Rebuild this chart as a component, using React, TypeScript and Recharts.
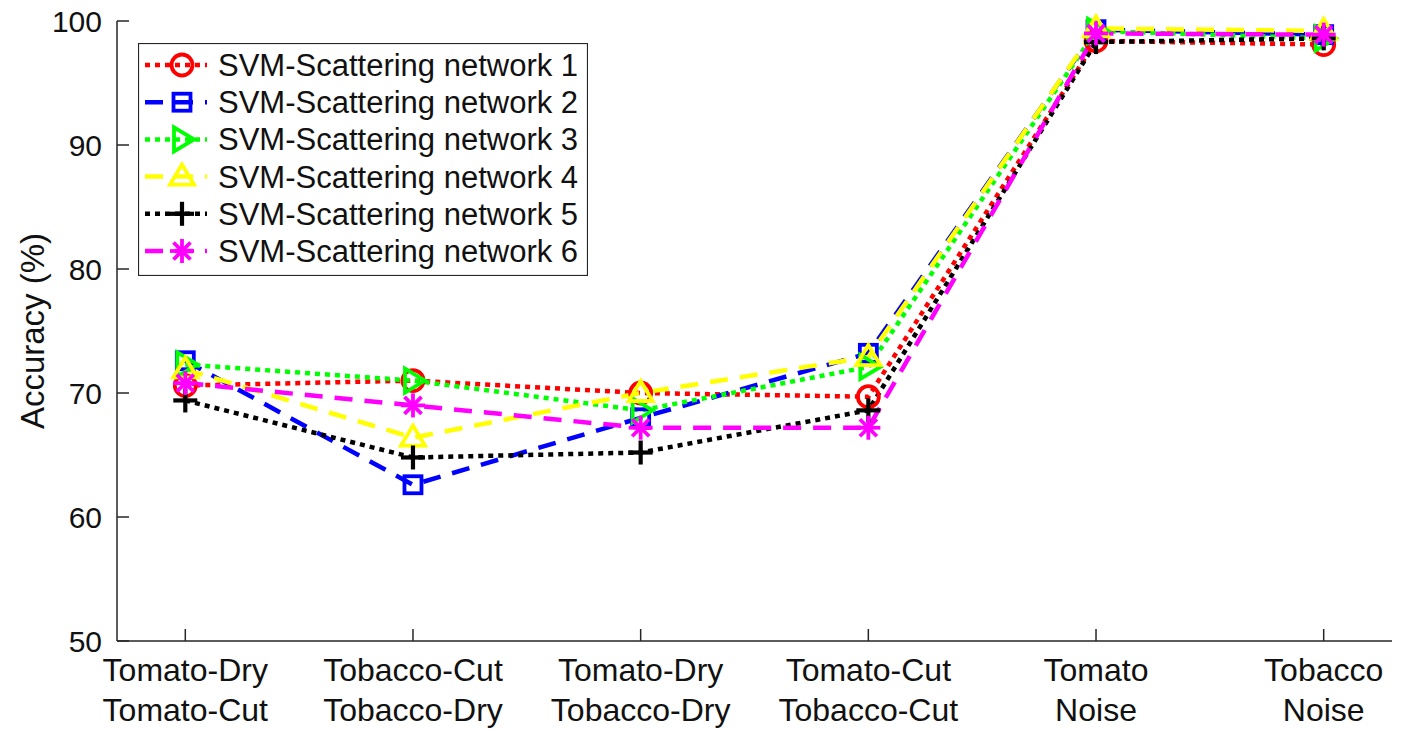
import React from "react";
import { LineChart, Line, XAxis, YAxis, Legend } from "recharts";

// category labels (two lines each) at x = 1..6
const categoryTop = ["Tomato-Dry", "Tobacco-Cut", "Tomato-Dry", "Tomato-Cut", "Tomato", "Tobacco"];
const categoryBottom = ["Tomato-Cut", "Tobacco-Dry", "Tobacco-Dry", "Tobacco-Cut", "Noise", "Noise"];
const xPositions = [1, 2, 3, 4, 5, 6];
const yTicks = [50, 60, 70, 80, 90, 100];

const net1 = [70.6, 71.0, 70.0, 69.7, 98.4, 98.1];
const net2 = [72.6, 62.6, 68.0, 73.2, 99.3, 98.9];
const net3 = [72.3, 71.0, 68.6, 72.1, 99.2, 98.6];
const net4 = [71.9, 66.4, 70.0, 72.9, 99.4, 99.2];
const net5 = [69.4, 64.8, 65.2, 68.6, 98.3, 98.6];
const net6 = [70.8, 69.0, 67.2, 67.2, 99.0, 98.9];

const seriesNames = [
  "SVM-Scattering network 1",
  "SVM-Scattering network 2",
  "SVM-Scattering network 3",
  "SVM-Scattering network 4",
  "SVM-Scattering network 5",
  "SVM-Scattering network 6",
];

const FONT = "'Liberation Sans', Arial, Helvetica, sans-serif";
const AXIS = "#262626";

type Marker = "circle" | "square" | "triRight" | "triUp" | "plus" | "star";

const styles: { key: string; color: string; dash: string; marker: Marker }[] = [
  { key: "n1", color: "#FF0000", dash: "5 5", marker: "circle" },
  { key: "n2", color: "#0000FF", dash: "18 12", marker: "square" },
  { key: "n3", color: "#00FF00", dash: "5 5", marker: "triRight" },
  { key: "n4", color: "#FFFF00", dash: "18 12", marker: "triUp" },
  { key: "n5", color: "#000000", dash: "5 5", marker: "plus" },
  { key: "n6", color: "#FF00FF", dash: "18 12", marker: "star" },
];

const data = xPositions.map((x, i) => ({
  x,
  n1: net1[i],
  n2: net2[i],
  n3: net3[i],
  n4: net4[i],
  n5: net5[i],
  n6: net6[i],
}));

function MarkerShape({ cx, cy, type, color }: { cx: number; cy: number; type: Marker; color: string }) {
  const common = { fill: "none", stroke: color, strokeWidth: 3.8 };
  switch (type) {
    case "circle":
      return <circle cx={cx} cy={cy} r={10.5} {...common} />;
    case "square":
      return <rect x={cx - 8.5} y={cy - 8.5} width={17} height={17} {...common} />;
    case "triRight":
      return <polygon points={`${cx + 12},${cy} ${cx - 8},${cy - 12} ${cx - 8},${cy + 12}`} {...common} />;
    case "triUp":
      return <polygon points={`${cx},${cy - 12} ${cx - 12},${cy + 8} ${cx + 12},${cy + 8}`} {...common} />;
    case "plus":
      return (
        <g stroke={color} strokeWidth={4.2}>
          <line x1={cx - 12} y1={cy} x2={cx + 12} y2={cy} />
          <line x1={cx} y1={cy - 12} x2={cx} y2={cy + 12} />
        </g>
      );
    default:
      return (
        <g stroke={color} strokeWidth={3.8}>
          <line x1={cx - 12} y1={cy} x2={cx + 12} y2={cy} />
          <line x1={cx} y1={cy - 12} x2={cx} y2={cy + 12} />
          <line x1={cx - 8.5} y1={cy - 8.5} x2={cx + 8.5} y2={cy + 8.5} />
          <line x1={cx - 8.5} y1={cy + 8.5} x2={cx + 8.5} y2={cy - 8.5} />
        </g>
      );
  }
}

const XTick = (props: any) => {
  const { x, y, payload } = props;
  const i = xPositions.indexOf(payload.value);
  return (
    <g>
      <line x1={x} y1={y} x2={x} y2={y - 12} stroke={AXIS} strokeWidth={1.5} />
      <text x={x} y={y + 40} textAnchor="middle" fontSize={32} fontFamily={FONT} fill="#111">
        {categoryTop[i]}
      </text>
      <text x={x} y={y + 80} textAnchor="middle" fontSize={32} fontFamily={FONT} fill="#111">
        {categoryBottom[i]}
      </text>
    </g>
  );
};

const YTick = (props: any) => {
  const { x, y, payload } = props;
  return (
    <g>
      <line x1={x} y1={y} x2={x + 12} y2={y} stroke={AXIS} strokeWidth={1.5} />
      <text x={x - 15} y={y + 10.5} textAnchor="end" fontSize={30} fontFamily={FONT} fill="#111">
        {payload.value}
      </text>
    </g>
  );
};

const YLabel = (props: any) => {
  const vb = props.viewBox || { x: 0, y: 21, width: 117, height: 620 };
  const cy = vb.y + vb.height / 2;
  return (
    <text
      x={32}
      y={cy}
      transform={`rotate(-90, 32, ${cy})`}
      textAnchor="middle"
      dominantBaseline="central"
      fontSize={33}
      fontFamily={FONT}
      fill="#111"
    >
      Accuracy (%)
    </text>
  );
};

const LegendBox = () => (
  <svg width={450} height={233} style={{ display: "block" }}>
    <rect x={0.5} y={0.5} width={449} height={232} fill="#fff" stroke={AXIS} strokeWidth={1.2} />
    {styles.map((s, i) => {
      const cy = 22 + i * 37.2;
      return (
        <g key={s.key}>
          <line x1={7} y1={cy} x2={69} y2={cy} stroke={s.color} strokeWidth={4.5} strokeDasharray={s.dash} />
          <MarkerShape cx={44} cy={cy} type={s.marker} color={s.color} />
          <text x={80} y={cy + 11} fontSize={31} fontFamily={FONT} fill="#111">
            {seriesNames[i]}
          </text>
        </g>
      );
    })}
  </svg>
);

export default function App() {
  return (
    <div style={{ position: "absolute", left: 0, top: 0, background: "#fff" }}>
      <LineChart width={1403} height={730} data={data} margin={{ top: 21, right: 11, bottom: 0, left: 0 }}>
        <XAxis
          type="number"
          dataKey="x"
          domain={[0.7, 6.3]}
          ticks={xPositions}
          allowDataOverflow
          height={89}
          tickSize={0}
          tickMargin={0}
          tickLine={false}
          axisLine={{ stroke: AXIS, strokeWidth: 1.5 }}
          tick={<XTick />}
        />
        <YAxis
          type="number"
          domain={[50, 100]}
          ticks={yTicks}
          width={117}
          tickSize={0}
          tickMargin={0}
          tickLine={false}
          axisLine={{ stroke: AXIS, strokeWidth: 1.5 }}
          tick={<YTick />}
          label={<YLabel />}
        />
        <Legend
          layout="vertical"
          align="center"
          verticalAlign="middle"
          content={() => <LegendBox />}
          wrapperStyle={{ left: 138, top: 43, width: 450, height: 233 }}
        />
        {styles.map((s) => (
          <Line
            key={s.key}
            dataKey={s.key}
            type="linear"
            stroke={s.color}
            strokeWidth={4.5}
            strokeDasharray={s.dash}
            isAnimationActive={false}
            dot={(p: any) => <MarkerShape key={`${s.key}-${p.index}`} cx={p.cx} cy={p.cy} type={s.marker} color={s.color} />}
            activeDot={false}
          />
        ))}
      </LineChart>
    </div>
  );
}
